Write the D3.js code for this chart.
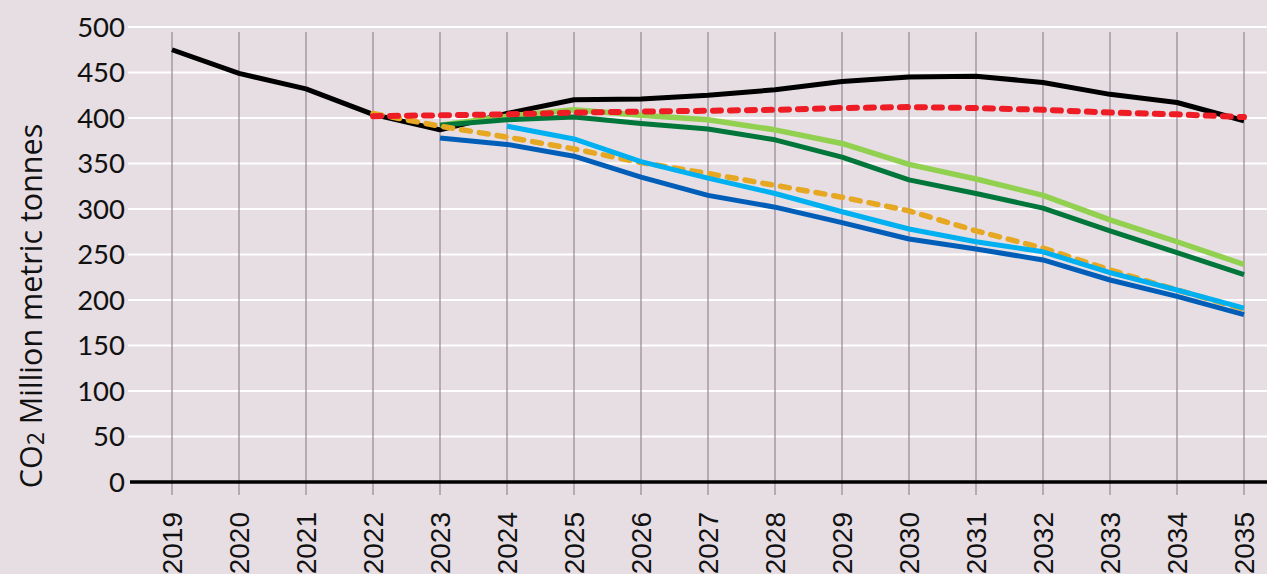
<!DOCTYPE html>
<html><head><meta charset="utf-8">
<script src="https://cdn.jsdelivr.net/npm/d3@7"></script>
<style>
html,body{margin:0;padding:0;background:#e6dee3;}
svg{display:block;font-family:Lato,"Open Sans",sans-serif;}
</style></head>
<body><svg id="chart" width="1267" height="574"></svg>
<script>
const years = [2019,2020,2021,2022,2023,2024,2025,2026,2027,2028,2029,2030,2031,2032,2033,2034,2035];
const yTicks = [0,50,100,150,200,250,300,350,400,450,500];

// Series values (null = no data)
const blackSeries      = [475,449,432,404,387,405,420,421,425,431,440,445,446,439,426,417,397];
const lightGreenSeries = [null,null,null,null,392,402,409,403,398,387,372,349,333,315,288,264,239];
const darkGreenSeries  = [null,null,null,null,392,398,401,394,388,376,357,332,317,301,276,252,228];
const orangeSeries     = [null,null,null,405,391,379,366,351,339,326,313,298,276,257,233,211,190];
const darkBlueSeries   = [null,null,null,null,378,371,358,335,315,302,285,267,256,244,222,204,184];
const lightBlueSeries  = [null,null,null,null,null,391,377,352,334,317,297,278,264,253,230,211,191];
const redSeries        = [null,null,null,402,403,404,406,407,408,409,411,412,411,409,406,404,401];

const series = [
  {name:"black", values:blackSeries, color:"#000000", width:5, dash:null},
  {name:"lightGreen", values:lightGreenSeries, color:"#92d050", width:5.5, dash:null},
  {name:"darkGreen", values:darkGreenSeries, color:"#00763a", width:5, dash:null},
  {name:"orange", values:orangeSeries, color:"#e6a823", width:5.5, dash:"9,9"},
  {name:"darkBlue", values:darkBlueSeries, color:"#005eb8", width:5, dash:null},
  {name:"lightBlue", values:lightBlueSeries, color:"#00b0f0", width:5, dash:null},
  {name:"red", values:redSeries, color:"#ee1c25", width:6, dash:"8,9"}
];

const svg = d3.select("#chart");
svg.append("rect").attr("width",1267).attr("height",574).attr("fill","#e6dee3");

const x = d3.scalePoint().domain(years).range([172,1244]);
const y = d3.scaleLinear().domain([0,500]).range([482,27]);

// horizontal gridlines
svg.append("g").selectAll("line").data(yTicks.filter(d=>d>0)).join("line")
  .attr("x1",128).attr("x2",1267)
  .attr("y1",d=>y(d)).attr("y2",d=>y(d))
  .attr("stroke","#ffffff").attr("stroke-width",2);

// vertical gridlines
svg.append("g").selectAll("line").data(years).join("line")
  .attr("x1",d=>x(d)).attr("x2",d=>x(d))
  .attr("y1",32).attr("y2",495)
  .attr("stroke","#958791").attr("stroke-width",1.2);

// zero axis line
svg.append("line").attr("x1",130).attr("x2",1267).attr("y1",y(0)).attr("y2",y(0))
  .attr("stroke","#000").attr("stroke-width",3.5);

// y tick labels
svg.append("g").selectAll("text").data(yTicks).join("text")
  .attr("x",125).attr("y",d=>y(d)).attr("dy","0.36em")
  .attr("text-anchor","end").attr("font-size",27.5).attr("fill","#111")
  .text(d=>d);

// x tick labels (rotated)
svg.append("g").selectAll("text").data(years).join("text")
  .attr("transform",d=>`translate(${x(d)},512) rotate(-90)`)
  .attr("text-anchor","end").attr("dy","0.36em")
  .attr("font-family","'Liberation Sans',Arial,sans-serif")
  .attr("font-size",28).attr("fill","#111")
  .text(d=>d);

// y axis title
const title = svg.append("text")
  .attr("transform","translate(42,306) rotate(-90)")
  .attr("text-anchor","middle").attr("font-size",30.5)
  .attr("font-family","'Open Sans','Noto Sans',sans-serif").attr("fill","#111");
title.append("tspan").text("CO");
title.append("tspan").attr("font-size",23).attr("dy",2).text("2");
title.append("tspan").attr("dy",-2).text(" Million metric tonnes");

// lines
const line = d3.line()
  .defined(d=>d.v!==null)
  .x(d=>x(d.year)).y(d=>y(d.v));

svg.append("g").selectAll("path").data(series).join("path")
  .attr("d",s=>line(years.map((yr,i)=>({year:yr,v:s.values[i]}))))
  .attr("fill","none")
  .attr("stroke",s=>s.color)
  .attr("stroke-width",s=>s.width)
  .attr("stroke-dasharray",s=>s.dash)
  .attr("stroke-linecap",s=>s.dash?"round":"butt")
  .attr("stroke-linejoin","round");
</script>
</body></html>
